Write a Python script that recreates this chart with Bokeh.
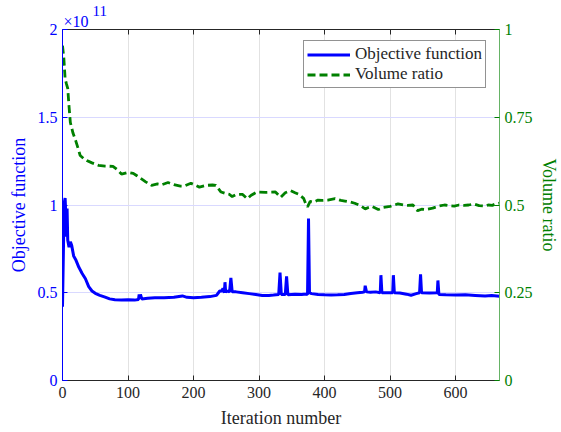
from bokeh.plotting import figure
from bokeh.models import (Range1d, LinearAxis, FixedTicker, Legend, LegendItem,
                          Title, CustomJSTickFormatter)
from bokeh.embed import file_html
from bokeh.resources import INLINE

# ---------------- data ----------------
# Objective function, in units of 1e11
obj_iter = [0, 2, 3, 4, 5, 6, 7, 8, 10, 12, 14, 17, 20, 25, 30, 35, 40, 45, 50, 57,
            65, 72, 80, 90, 100, 110, 116, 117, 118, 119, 121, 130, 141, 155, 170,
            183, 190, 200, 212, 225, 235, 240, 243, 245, 247, 248, 249, 252, 255,
            257, 259, 265, 275, 285, 295, 305, 315, 322, 330, 332, 334, 340, 342,
            344, 355, 365, 372, 374, 375.5, 377, 380, 390, 400, 410, 420, 430, 440,
            450, 458, 461, 462, 464, 470, 478, 485, 486, 487.5, 495, 504, 505,
            506.5, 515, 525, 532, 540, 545, 546.5, 548, 560, 572, 573, 574.5, 585,
            600, 615, 630, 645, 655, 667]
obj_val = [0.42, 0.88, 1.02, 1.04, 0.95, 0.82, 0.98, 0.80, 0.76, 0.79, 0.77, 0.71,
           0.69, 0.645, 0.61, 0.58, 0.535, 0.51, 0.497, 0.485, 0.475, 0.465, 0.46,
           0.458, 0.46, 0.458, 0.462, 0.49, 0.465, 0.49, 0.465, 0.468, 0.471, 0.472,
           0.474, 0.482, 0.474, 0.472, 0.474, 0.478, 0.485, 0.51, 0.51, 0.525, 0.50,
           0.56, 0.505, 0.51, 0.505, 0.585, 0.505, 0.505, 0.50, 0.495, 0.49, 0.484,
           0.485, 0.487, 0.49, 0.615, 0.49, 0.49, 0.593, 0.488, 0.492, 0.49, 0.493,
           0.49, 0.923, 0.50, 0.495, 0.49, 0.488, 0.487, 0.488, 0.49, 0.496, 0.50,
           0.503, 0.505, 0.54, 0.505, 0.503, 0.505, 0.50, 0.60, 0.50, 0.50, 0.50,
           0.60, 0.50, 0.498, 0.492, 0.486, 0.495, 0.50, 0.605, 0.50, 0.498, 0.50,
           0.57, 0.49, 0.488, 0.487, 0.488, 0.485, 0.482, 0.484, 0.48]

# Volume ratio
vol_iter = [0, 2, 4, 6, 8, 10, 12, 16, 20, 24, 27, 32, 37, 45, 55, 65, 77, 84, 90,
            100, 108, 113, 120, 127, 136, 145, 152, 161, 170, 180, 186, 196, 203,
            209, 220, 229, 234, 242, 250, 255, 259, 265, 275, 282, 288, 297, 310,
            325, 333, 340, 348, 355, 361, 368, 372, 374, 378, 383, 390, 396, 405,
            416, 425, 431, 440, 446, 455, 462, 467, 472, 482, 490, 500, 512, 520,
            527, 535, 540, 542, 548, 555, 565, 575, 583, 590, 598, 605, 613, 620,
            628, 636, 644, 650, 656, 661, 667]
vol_val = [0.954, 0.92, 0.86, 0.845, 0.832, 0.78, 0.735, 0.705, 0.684, 0.66, 0.641,
           0.633, 0.627, 0.62, 0.613, 0.611, 0.61, 0.60, 0.588, 0.593, 0.59, 0.584,
           0.575, 0.566, 0.556, 0.56, 0.558, 0.564, 0.558, 0.554, 0.554, 0.562,
           0.556, 0.551, 0.556, 0.557, 0.556, 0.537, 0.532, 0.53, 0.524, 0.53, 0.53,
           0.518, 0.528, 0.537, 0.536, 0.537, 0.522, 0.535, 0.541, 0.535, 0.53,
           0.519, 0.50, 0.495, 0.51, 0.508, 0.514, 0.513, 0.514, 0.518, 0.513,
           0.511, 0.508, 0.505, 0.498, 0.489, 0.493, 0.496, 0.487, 0.493, 0.496,
           0.503, 0.50, 0.499, 0.50, 0.487, 0.484, 0.488, 0.487, 0.491, 0.497, 0.50,
           0.498, 0.497, 0.50, 0.499, 0.50, 0.503, 0.498, 0.497, 0.50, 0.499, 0.503,
           0.505]

x_ticks = [0, 100, 200, 300, 400, 500, 600]
left_ticks = [0, 0.5, 1, 1.5, 2]
right_ticks = [0, 0.25, 0.5, 0.75, 1]

FONT = "Liberation Serif"
BLUE = "#0000ff"
GREEN = "#008000"
DARK = "#262626"

p = figure(width=561, height=432, output_backend="svg", toolbar_location=None,
           title=None,
           x_range=Range1d(0, 667), y_range=Range1d(0, 2),
           min_border_left=62, min_border_right=59, min_border_top=29,
           min_border_bottom=52)
p.outline_line_color = None
p.background_fill_color = "white"
p.border_fill_color = "white"
p.extra_y_ranges = {"vol": Range1d(0, 1)}

fmt = CustomJSTickFormatter(code="return tick.toString();")

# bottom axis
xa = p.xaxis[0]
xa.ticker = FixedTicker(ticks=x_ticks)
xa.formatter = fmt
xa.axis_label = "Iteration number"
xa.axis_label_text_font = FONT
xa.axis_label_text_font_size = "18px"
xa.axis_label_text_font_style = "normal"
xa.axis_label_text_color = DARK
xa.axis_label_standoff = 7
xa.major_label_text_font = FONT
xa.major_label_text_font_size = "16px"
xa.major_label_text_color = DARK
xa.major_label_standoff = 6
xa.axis_line_color = DARK
xa.major_tick_line_color = DARK
xa.major_tick_in = 5
xa.major_tick_out = 0
xa.minor_tick_line_color = None

# left axis
ya = p.yaxis[0]
ya.ticker = FixedTicker(ticks=left_ticks)
ya.formatter = fmt
ya.axis_label = "Objective function"
ya.axis_label_text_font = FONT
ya.axis_label_text_font_size = "18px"
ya.axis_label_text_font_style = "normal"
ya.axis_label_text_color = BLUE
ya.axis_label_standoff = 6
ya.major_label_text_font = FONT
ya.major_label_text_font_size = "16px"
ya.major_label_text_color = BLUE
ya.major_label_standoff = 5
ya.axis_line_color = BLUE
ya.major_tick_line_color = BLUE
ya.major_tick_in = 5
ya.major_tick_out = 0
ya.minor_tick_line_color = None

# right axis
ra = LinearAxis(y_range_name="vol", ticker=FixedTicker(ticks=right_ticks),
                formatter=fmt, axis_label="Volume ratio")
ra.axis_label_text_font = FONT
ra.axis_label_text_font_size = "18px"
ra.axis_label_text_font_style = "normal"
ra.axis_label_text_color = GREEN
ra.axis_label_standoff = 3
ra.major_label_text_font = FONT
ra.major_label_text_font_size = "16px"
ra.major_label_text_color = GREEN
ra.major_label_standoff = 5
ra.axis_line_color = "#66b366"
ra.major_tick_line_color = GREEN
ra.major_tick_in = 5
ra.major_tick_out = 0
ra.minor_tick_line_color = None
p.add_layout(ra, "right")

# top axis (box line with ticks, no labels)
ta = LinearAxis(ticker=FixedTicker(ticks=x_ticks),
                formatter=CustomJSTickFormatter(code="return '';"))
ta.axis_line_color = DARK
ta.major_tick_line_color = DARK
ta.major_tick_in = 5
ta.major_tick_out = 0
ta.minor_tick_line_color = None
ta.major_label_text_font_size = "1px"
ta.major_label_standoff = 0
p.add_layout(ta, "above")

# x10^11 exponent: base and raised exponent
p.add_layout(Title(text="×10", align="left", offset=1, standoff=0,
                   text_font=FONT, text_font_size="16px", text_color=BLUE,
                   text_font_style="normal"), "above")
p.add_layout(Title(text="11", align="left", offset=30, standoff=-10,
                   text_font=FONT, text_font_size="15px", text_color=BLUE,
                   text_font_style="normal"), "above")

# grids
p.xgrid.grid_line_color = "#e2e2e2"
p.ygrid.grid_line_color = "#d9d9ff"

# lines
r_obj = p.line(obj_iter, obj_val, line_color=BLUE, line_width=3)
r_vol = p.line(vol_iter, vol_val, line_color=GREEN, line_width=2.8,
               line_dash="8 4", y_range_name="vol")

legend = Legend(items=[LegendItem(label="Objective function", renderers=[r_obj]),
                       LegendItem(label="Volume ratio", renderers=[r_vol])],
                location=(241, 292))
legend.label_text_font = FONT
legend.label_text_font_size = "17px"
legend.label_text_color = DARK
legend.border_line_color = DARK
legend.border_line_width = 1
legend.background_fill_color = "white"
legend.background_fill_alpha = 1
legend.padding = 3
legend.spacing = 0
legend.margin = 0
legend.label_height = 19
legend.glyph_height = 19
legend.glyph_width = 43
legend.label_standoff = 5
p.add_layout(legend)

open("out.html", "w").write(file_html(p, INLINE))
